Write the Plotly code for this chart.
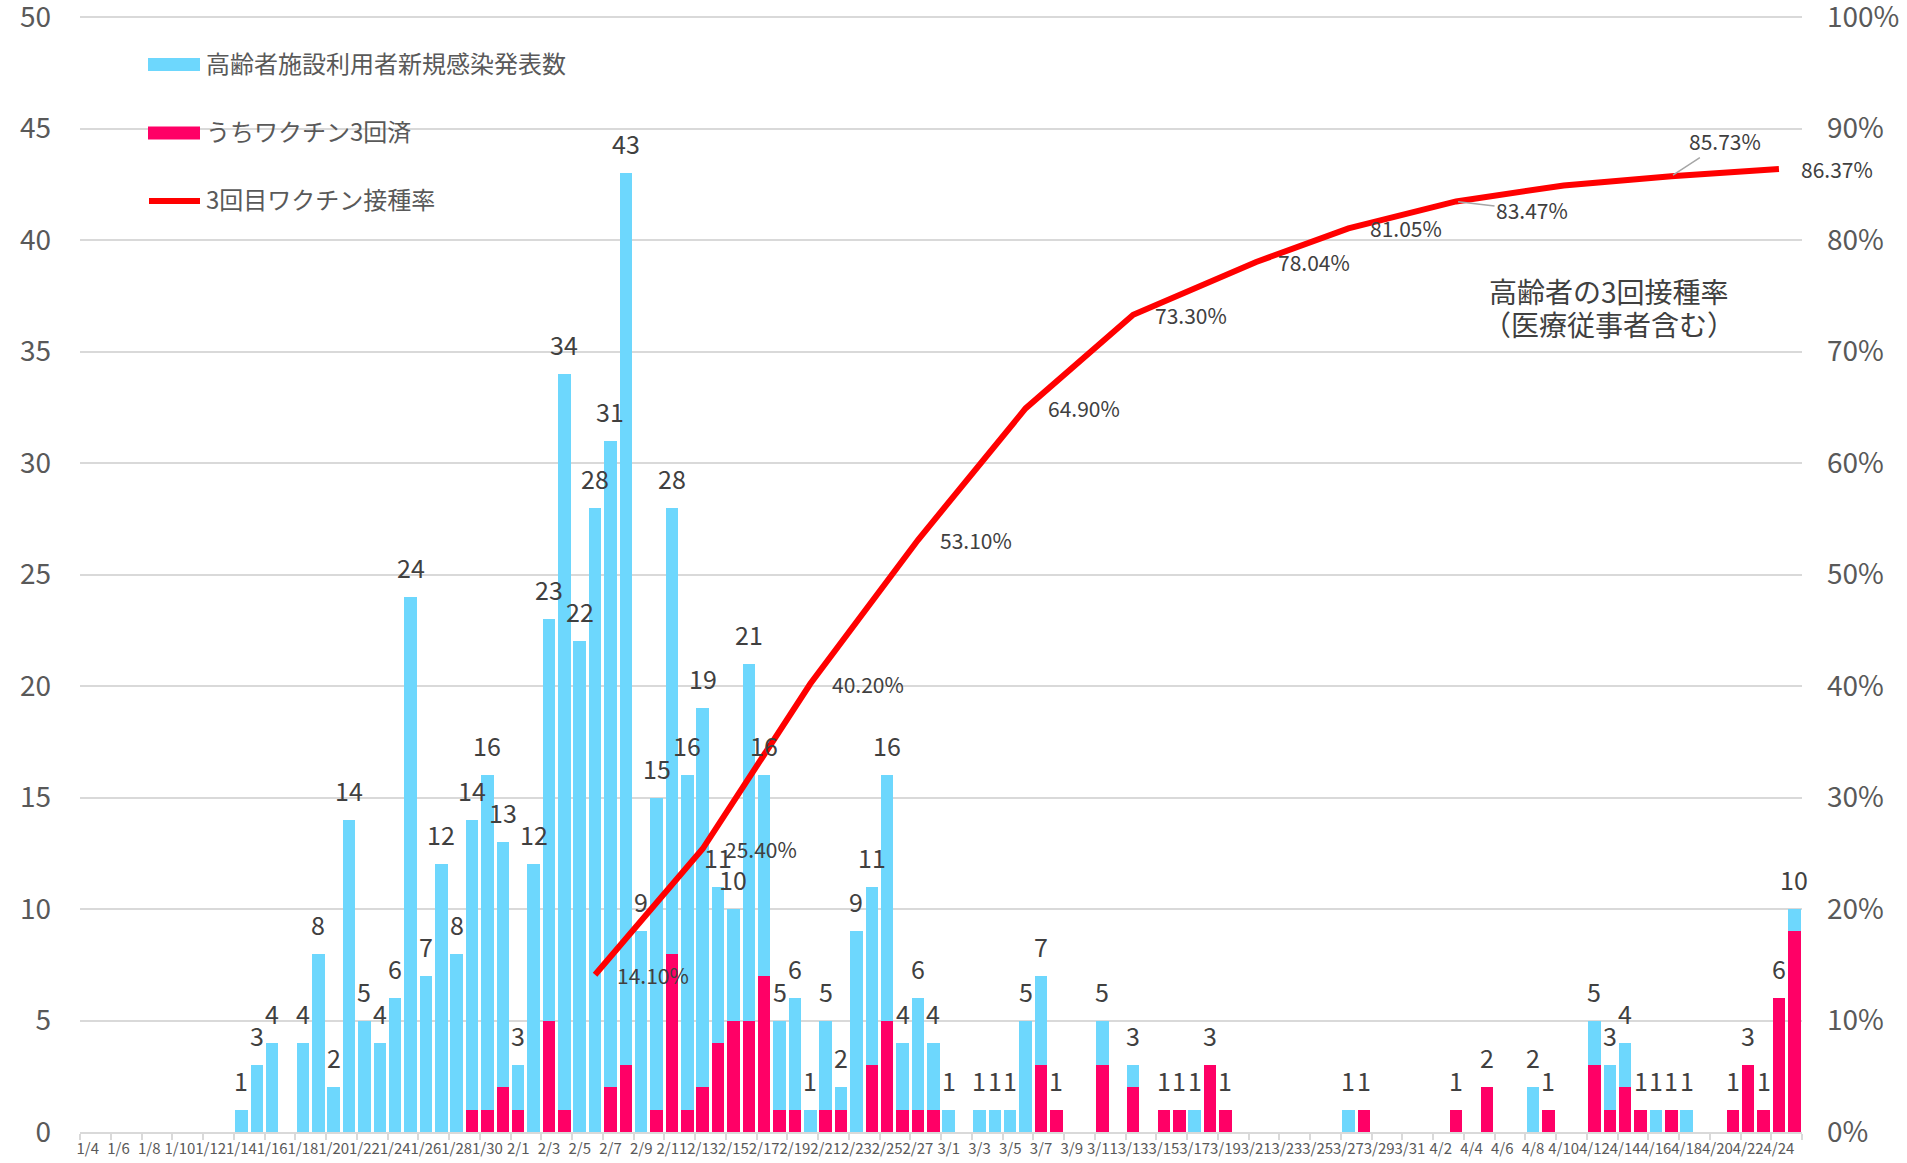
import pandas as pd
import plotly.graph_objects as go

# Daily categories 1/4 .. 4/25
dates = [f"{d.month}/{d.day}" for d in pd.date_range("2022-01-04", "2022-04-25")]

# Newly announced cases among elderly-facility users (per day)
new_cases = [
    0, 0, 0, 0, 0, 0, 0, 0, 0, 0,
    1, 3, 4, 0, 4, 8, 2, 14, 5, 4,
    6, 24, 7, 12, 8, 14, 16, 13, 3, 12,
    23, 34, 22, 28, 31, 43, 9, 15, 28, 16,
    19, 11, 10, 21, 16, 5, 6, 1, 5, 2,
    9, 11, 16, 4, 6, 4, 1, 0, 1, 1,
    1, 5, 7, 1, 0, 0, 5, 0, 3, 0,
    1, 1, 1, 3, 1, 0, 0, 0, 0, 0,
    0, 0, 1, 1, 0, 0, 0, 0, 0, 1,
    0, 2, 0, 0, 2, 1, 0, 0, 5, 3,
    4, 1, 1, 1, 1, 0, 0, 1, 3, 1,
    6, 10,
]

# Of which: already had the 3rd vaccine dose
boosted_cases = [
    0, 0, 0, 0, 0, 0, 0, 0, 0, 0,
    0, 0, 0, 0, 0, 0, 0, 0, 0, 0,
    0, 0, 0, 0, 0, 1, 1, 2, 1, 0,
    5, 1, 0, 0, 2, 3, 0, 1, 8, 1,
    2, 4, 5, 5, 7, 1, 1, 0, 1, 1,
    0, 3, 5, 1, 1, 1, 0, 0, 0, 0,
    0, 0, 3, 1, 0, 0, 3, 0, 2, 0,
    1, 1, 0, 3, 1, 0, 0, 0, 0, 0,
    0, 0, 0, 1, 0, 0, 0, 0, 0, 1,
    0, 2, 0, 0, 0, 1, 0, 0, 3, 1,
    2, 1, 0, 1, 0, 0, 0, 1, 3, 1,
    6, 9,
]

# Weekly 3rd-dose coverage among the elderly (%)
rate_dates = ["2/6", "2/13", "2/20", "2/27", "3/6", "3/13", "3/21",
              "3/27", "4/3", "4/10", "4/17", "4/24"]
rate_pct = [14.10, 25.40, 40.20, 53.10, 64.90, 73.30, 78.04,
            81.05, 83.47, 84.90, 85.73, 86.37]
rate_labelled = [True, True, True, True, True, True, True,
                 True, True, False, True, True]

legend_names = ["高齢者施設利用者新規感染発表数", "うちワクチン3回済", "3回目ワクチン接種率"]

BLUE = "#6DD7FD"
PINK = "#FF0066"
RED = "#FF0000"
GRID = "#D9D9D9"
TXT = "#595959"
LBL = "#404040"
FONT = "Noto Sans CJK JP"

W, H = 1907, 1163
ML, MR, MT, MB = 80, 105, 16, 31
PW, PH = W - ML - MR, H - MT - MB
Y_TOP = 50.05          # a hair above 50 so the top gridline stays visible
Y2_TOP = Y_TOP / 50


def px_x(px):
    return (px - ML) / PW


def px_y(py):
    return (H - MB - py) / PH


pos = list(range(len(dates)))
rate_x = [dates.index(d) for d in rate_dates]

fig = go.Figure()
fig.add_trace(go.Bar(x=pos, y=new_cases, name=legend_names[0], width=0.82,
                     marker=dict(color=BLUE, line=dict(width=0)),
                     customdata=dates, hovertemplate="%{customdata}: %{y}<extra></extra>"))
fig.add_trace(go.Bar(x=pos, y=boosted_cases, name=legend_names[1], width=0.82,
                     marker=dict(color=PINK, line=dict(width=0)),
                     customdata=dates, hovertemplate="%{customdata}: %{y}<extra></extra>"))
fig.add_trace(go.Scatter(x=rate_x, y=[p / 100 for p in rate_pct], name=legend_names[2],
                         yaxis="y2", mode="lines", line=dict(color=RED, width=6)))

annotations = []

# value labels above each day's bar
for i, v in enumerate(new_cases):
    if v > 0:
        annotations.append(dict(x=i, y=v, xref="x", yref="y", text=str(v), showarrow=False,
                                yanchor="bottom", yshift=10,
                                font=dict(size=25, color=LBL, family=FONT)))

# coverage labels
for rx, p, show in zip(rate_x, rate_pct, rate_labelled):
    if not show:
        continue
    a = dict(x=rx, y=p / 100, xref="x", yref="y2", text=f"{p:.2f}%",
             font=dict(size=21, color=LBL, family=FONT))
    if p == 83.47:
        a.update(showarrow=True, ax=76, ay=9, arrowhead=0, arrowwidth=1.5,
                 arrowcolor="#A6A6A6", standoff=2)
    elif p == 85.73:
        a.update(showarrow=True, ax=54, ay=-35, arrowhead=0, arrowwidth=1.5,
                 arrowcolor="#A6A6A6", standoff=2)
    else:
        a.update(showarrow=False, xanchor="left", yanchor="middle", xshift=20)
    annotations.append(a)

# side note
annotations.append(dict(x=px_x(1609), y=px_y(291), xref="paper", yref="paper",
                        text="高齢者の3回接種率", showarrow=False, xanchor="center", yanchor="middle",
                        font=dict(size=28, color=LBL, family=FONT)))
annotations.append(dict(x=px_x(1609), y=px_y(324), xref="paper", yref="paper",
                        text="（医療従事者含む）", showarrow=False, xanchor="center", yanchor="middle",
                        font=dict(size=28, color=LBL, family=FONT)))

# legend
shapes = []
legend_rows = [(64.5, BLUE, "rect"), (133, PINK, "rect"), (201, RED, "line")]
for (cy, col, kind), name in zip(legend_rows, legend_names):
    if kind == "rect":
        shapes.append(dict(type="rect", xref="paper", yref="paper",
                           x0=px_x(148), x1=px_x(200), y0=px_y(cy + 6.5), y1=px_y(cy - 6.5),
                           fillcolor=col, line=dict(width=0)))
    else:
        shapes.append(dict(type="line", xref="paper", yref="paper",
                           x0=px_x(149), x1=px_x(200), y0=px_y(cy), y1=px_y(cy),
                           line=dict(color=col, width=6)))
    annotations.append(dict(x=px_x(204), y=px_y(cy - 2), xref="paper", yref="paper",
                            text=name, showarrow=False, xanchor="left", yanchor="middle",
                            font=dict(size=24, color=TXT, family=FONT)))

fig.update_layout(
    width=W, height=H,
    margin=dict(l=ML, r=MR, t=MT, b=MB, pad=0),
    paper_bgcolor="white", plot_bgcolor="white",
    barmode="overlay", bargap=0,
    showlegend=False,
    font=dict(family=FONT, color=TXT),
    annotations=annotations,
    shapes=shapes,
    xaxis=dict(
        range=[-0.5, len(dates) - 0.5],
        tickmode="array", tickvals=pos[::2], ticktext=dates[::2],
        ticks="", tickangle=0, tickfont=dict(size=15, color=TXT), ticklabelstandoff=2,
        ticklabeloverflow="allow",
        showgrid=False, zeroline=False,
        showline=True, linecolor=GRID, linewidth=1.5,
        minor=dict(tickmode="linear", tick0=-0.5, dtick=2, ticks="outside",
                   ticklen=6, tickcolor=GRID, tickwidth=1.5, showgrid=False),
        automargin=False,
    ),
    yaxis=dict(
        range=[0, Y_TOP], dtick=5, tick0=0,
        showgrid=True, gridcolor=GRID, gridwidth=1.5, zeroline=False,
        ticks="", tickfont=dict(size=28, color=TXT), ticklabelstandoff=28,
        ticklabeloverflow="allow",
        automargin=False,
    ),
    yaxis2=dict(
        range=[0, Y2_TOP], dtick=0.1, tick0=0, tickformat=".0%",
        overlaying="y", side="right", showgrid=False, zeroline=False,
        ticks="", tickfont=dict(size=28, color=TXT), ticklabelstandoff=24,
        ticklabeloverflow="allow",
        automargin=False,
    ),
)

fig.write_html("out.html")
